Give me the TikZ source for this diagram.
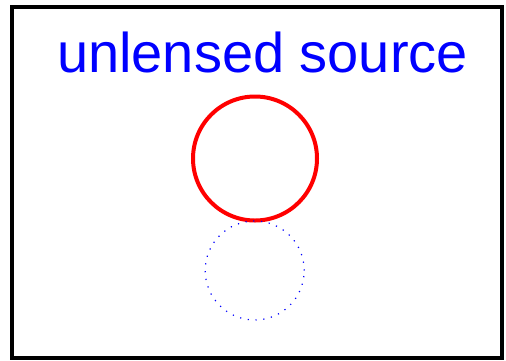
\documentclass[tikz,border=0pt]{standalone}
\usepackage{fontspec}
\setmainfont{Liberation Sans}
\begin{document}
\begin{tikzpicture}[x=1pt,y=-1pt,
  frame/.style={draw=black,line width=4.2pt},
  srcring/.style={draw=red,line width=4pt},
  unlensed/.style={draw=blue,line width=1.2pt,dash pattern=on 1.2pt off 6.6pt},
  title/.style={text=blue,font=\fontsize{56}{60}\selectfont,anchor=base,inner sep=0pt}]
\useasboundingbox (0,0) rectangle (506,360);
\draw[frame] (12,6.7) rectangle (502,358);
\node[title] (t) at (262.5,72) {unlensed source};
\node[srcring,circle,minimum size=124pt,inner sep=0pt] (r) at (255,158.5) {};
\node[unlensed,circle,minimum size=99pt,inner sep=0pt] (u) at (254.7,270.5) {};
\end{tikzpicture}
\end{document}
